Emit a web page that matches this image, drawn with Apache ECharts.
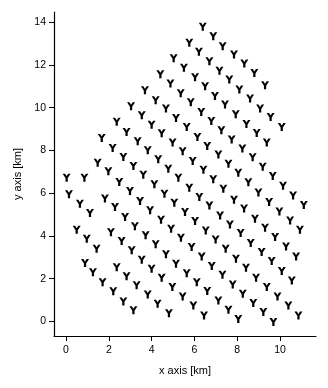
<!DOCTYPE html>
<html>
<head>
<meta charset="utf-8">
<script src="https://cdn.jsdelivr.net/npm/echarts@6/dist/echarts.min.js"></script>
<style>
html,body{margin:0;padding:0;background:#fff;}
#chart{width:328px;height:388px;}
</style>
</head>
<body>
<div id="chart"></div>
<script>
// Turbine positions [x km, y km], grouped by diagonal rows
const row1 = [[6.39,13.79],[6.88,13.35],[7.32,12.88],[7.85,12.49],[8.33,12.07],[8.80,11.63],[9.30,11.05]];
const row2 = [[5.76,13.04],[6.21,12.62],[6.70,12.18],[7.17,11.73],[7.63,11.32],[8.10,10.85],[8.60,10.43],[9.07,9.96],[9.56,9.57],[10.08,9.10]];
const row3 = [[5.03,12.32],[5.51,11.87],[6.03,11.43],[6.50,11.01],[6.96,10.55],[7.43,10.15],[7.93,9.70],[8.43,9.24],[8.91,8.82],[9.38,8.37]];
const row4 = [[4.41,11.57],[4.88,11.13],[5.36,10.68],[5.83,10.26],[6.32,9.80],[6.79,9.38],[7.26,8.95],[7.74,8.52],[8.24,8.09],[8.72,7.68],[9.19,7.24],[9.66,6.81],[10.14,6.35],[10.61,5.89],[11.11,5.45]];
const row5 = [[3.69,10.82],[4.19,10.35],[4.67,9.96],[5.14,9.52],[5.64,9.10],[6.14,8.63],[6.60,8.21],[7.12,7.81],[7.59,7.38],[8.05,6.96],[8.52,6.51],[8.99,6.03],[9.49,5.59],[9.97,5.14],[10.47,4.72],[10.93,4.29]];
const row6 = [[3.04,10.07],[3.54,9.65],[4.00,9.21],[4.47,8.81],[4.98,8.37],[5.45,7.96],[5.92,7.51],[6.42,7.10],[6.88,6.65],[7.35,6.21],[7.85,5.70],[8.32,5.28],[8.83,4.81],[9.30,4.39],[9.77,3.95],[10.28,3.51],[10.75,3.04]];
const row7 = [[2.37,9.34],[2.83,8.87],[3.35,8.43],[3.82,8.01],[4.31,7.59],[4.78,7.15],[5.25,6.73],[5.76,6.26],[6.23,5.82],[6.70,5.43],[7.20,4.96],[7.66,4.54],[8.16,4.14],[8.63,3.67],[9.14,3.25],[9.61,2.83],[10.08,2.36],[10.55,1.92]];
const row8 = [[1.67,8.59],[2.18,8.12],[2.68,7.70],[3.15,7.28],[3.61,6.87],[4.13,6.42],[4.60,5.98],[5.06,5.56],[5.56,5.12],[6.03,4.70],[6.53,4.26],[6.99,3.83],[7.46,3.40],[7.94,2.94],[8.41,2.51],[8.88,2.05],[9.38,1.61],[9.88,1.17],[10.39,0.75],[10.86,0.28]];
const row9 = [[1.48,7.43],[1.98,7.03],[2.49,6.53],[2.99,6.10],[3.46,5.64],[3.93,5.20],[4.44,4.76],[4.91,4.34],[5.37,3.92],[5.87,3.48],[6.34,3.04],[6.81,2.59],[7.31,2.19],[7.79,1.73],[8.26,1.30],[8.75,0.86],[9.22,0.44],[9.69,-0.03]];
const row10 = [[0.86,6.73],[1.82,5.75],[2.29,5.36],[2.76,4.89],[3.22,4.45],[3.72,4.03],[4.19,3.61],[4.67,3.14],[5.14,2.70],[5.64,2.26],[6.11,1.84],[6.60,1.42],[7.12,0.98],[7.59,0.55],[8.05,0.12]];
const row11 = [[0.14,5.95],[0.65,5.51],[1.12,5.07],[2.10,4.18],[2.60,3.76],[3.07,3.33],[3.54,2.89],[4.00,2.47],[4.47,2.05],[4.97,1.61],[5.45,1.17],[5.95,0.75],[6.45,0.28]];
const row12 = [[0.50,4.29],[0.97,3.87],[1.43,3.40],[2.37,2.54],[2.83,2.11],[3.30,1.69],[3.82,1.26],[4.28,0.83],[4.81,0.39]];
const row13 = [[0.89,2.73],[1.26,2.30],[1.71,1.84],[2.21,1.41],[2.68,0.94],[3.15,0.52]];
const single = [[0.03,6.73]];

const xTicks = [0, 2, 4, 6, 8, 10];
const yTicks = [0, 2, 4, 6, 8, 10, 12, 14];

const turbines = [].concat(row1,row2,row3,row4,row5,row6,row7,row8,row9,row10,row11,row12,row13,single);

const ySymbol = 'path://M0,0 L3,0 L5,3.1 L7,0 L10,0 L6.4,5.6 L6.4,10 L3.6,10 L3.6,5.6 Z';

const FONT = '"Liberation Sans", Arial, Helvetica, sans-serif';
const chart = echarts.init(document.getElementById('chart'), null, {renderer: 'canvas'});
chart.setOption({
  animation: false,
  backgroundColor: '#ffffff',
  grid: {left: 54, right: 12, top: 12, bottom: 52},
  xAxis: {
    type: 'value', min: -0.56, max: 11.68,
    name: 'x axis [km]', nameLocation: 'middle', nameGap: 29,
    nameTextStyle: {color: '#000', fontSize: 11, fontFamily: FONT},
    axisLine: {show: true, onZero: false, lineStyle: {color: '#000', width: 1.2}},
    axisTick: {show: true, length: 5, inside: false, customValues: xTicks, lineStyle: {color: '#000', width: 1}},
    axisLabel: {show: true, margin: 9, color: '#000', fontSize: 10.5, fontFamily: FONT, customValues: xTicks},
    splitLine: {show: false}
  },
  yAxis: {
    type: 'value', min: -0.68, max: 14.48,
    name: 'y axis [km]', nameLocation: 'middle', nameGap: 31,
    nameTextStyle: {color: '#000', fontSize: 11, fontFamily: FONT},
    axisLine: {show: true, onZero: false, lineStyle: {color: '#000', width: 1.2}},
    axisTick: {show: true, length: 5, inside: false, customValues: yTicks, lineStyle: {color: '#000', width: 1}},
    axisLabel: {show: true, margin: 8, color: '#000', fontSize: 10.5, fontFamily: FONT, customValues: yTicks},
    splitLine: {show: false}
  },
  series: [{
    type: 'scatter',
    data: turbines,
    symbol: ySymbol,
    symbolSize: [8, 8],
    itemStyle: {color: '#000', opacity: 1},
    emphasis: {disabled: true}
  }]
});
</script>
</body>
</html>
